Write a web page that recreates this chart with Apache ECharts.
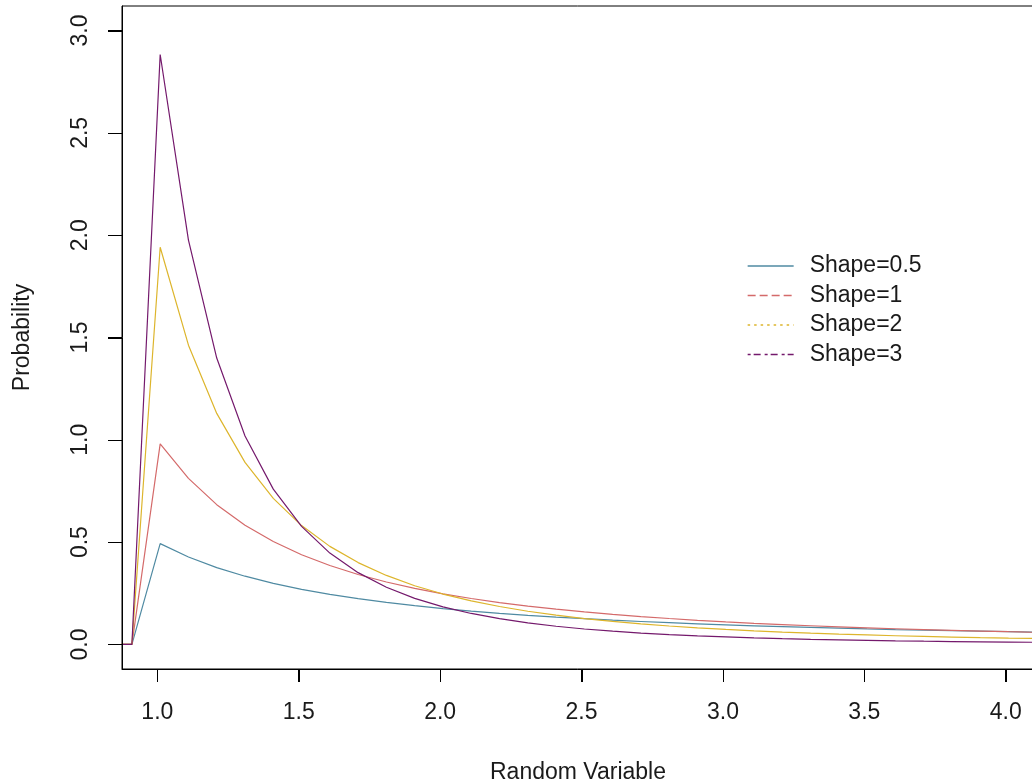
<!DOCTYPE html>
<html>
<head>
<meta charset="utf-8">
<title>Shape densities</title>
<script src="https://cdn.jsdelivr.net/npm/echarts@6/dist/echarts.min.js"></script>
<style>
  html, body { margin: 0; padding: 0; background: #ffffff; }
  #chart { width: 1032px; height: 784px; }
</style>
</head>
<body>
<div id="chart"></div>
<script>
// Sample points of the random variable
const xValues = [0.81, 0.91, 1.01, 1.11, 1.21, 1.31, 1.41, 1.51, 1.61, 1.71, 1.81, 1.91,
  2.01, 2.11, 2.21, 2.31, 2.41, 2.51, 2.61, 2.71, 2.81, 2.91, 3.01, 3.11, 3.21, 3.31,
  3.41, 3.51, 3.61, 3.71, 3.81, 3.91, 4.01, 4.11, 4.21];

// Probability for each shape value
const shape05 = [0, 0, 0.4926, 0.4276, 0.3757, 0.3335, 0.2986, 0.2695, 0.2448, 0.2236, 0.2053, 0.1894,
  0.1755, 0.1631, 0.1522, 0.1424, 0.1336, 0.1257, 0.1186, 0.1121, 0.1062, 0.1007, 0.0958, 0.0912, 0.0869, 0.0830,
  0.0794, 0.0760, 0.0729, 0.0700, 0.0672, 0.0647, 0.0623, 0.0600, 0.0579];
const shape1 = [0, 0, 0.9803, 0.8116, 0.6830, 0.5827, 0.5030, 0.4386, 0.3858, 0.3420, 0.3052, 0.2741,
  0.2475, 0.2246, 0.2048, 0.1874, 0.1722, 0.1587, 0.1468, 0.1362, 0.1267, 0.1181, 0.1104, 0.1034, 0.0971, 0.0913,
  0.0860, 0.0812, 0.0767, 0.0727, 0.0689, 0.0654, 0.0622, 0.0592, 0.0564];
const shape2 = [0, 0, 1.9412, 1.4624, 1.1290, 0.8896, 0.7135, 0.5809, 0.4792, 0.4000, 0.3373, 0.2870,
  0.2463, 0.2129, 0.1853, 0.1623, 0.1429, 0.1265, 0.1125, 0.1005, 0.0901, 0.0812, 0.0733, 0.0665, 0.0605, 0.0552,
  0.0504, 0.0463, 0.0425, 0.0392, 0.0362, 0.0335, 0.0310, 0.0288, 0.0268];
const shape3 = [0, 0, 2.8830, 1.9762, 1.3995, 1.0187, 0.7590, 0.5771, 0.4465, 0.3509, 0.2795, 0.2254,
  0.1838, 0.1514, 0.1258, 0.1054, 0.0889, 0.0756, 0.0647, 0.0556, 0.0481, 0.0418, 0.0366, 0.0321, 0.0283, 0.0250,
  0.0222, 0.0198, 0.0177, 0.0158, 0.0142, 0.0128, 0.0116, 0.0105, 0.0096];

// Axis tick positions
const xTicks = [1.0, 1.5, 2.0, 2.5, 3.0, 3.5, 4.0];
const yTicks = [0.0, 0.5, 1.0, 1.5, 2.0, 2.5, 3.0];

const seriesNames = ['Shape=0.5', 'Shape=1', 'Shape=2', 'Shape=3'];
const seriesValues = [shape05, shape1, shape2, shape3];
const seriesColors = ['#4f8aa2', '#d46a6a', '#ddb52c', '#74196c'];
const legendDash = ['solid', [8, 4], [2.5, 4], [3, 3, 7, 4]];

const FONT = '"Liberation Sans", Arial, Helvetica, sans-serif';
const X_MIN = 0.875, X_MAX = 4.1, Y_MIN = -0.12, Y_MAX = 3.12;

const chart = echarts.init(document.getElementById('chart'));

const series = seriesNames.map((name, i) => ({
  name: name,
  type: 'line',
  data: xValues.map((x, k) => [x, seriesValues[i][k]]),
  symbol: 'none',
  lineStyle: { color: seriesColors[i], width: 1.2, type: 'solid' },
  itemStyle: { color: seriesColors[i] }
}));

chart.setOption({
  animation: false,
  grid: {
    left: 122, top: 6, right: -2, bottom: 115,
    show: true, borderColor: '#000000',
    outerBoundsMode: 'none'
  },
  legend: {
    show: true,
    orient: 'vertical',
    left: 742,
    top: 249,
    itemWidth: 46,
    itemHeight: 12,
    itemGap: 5.5,
    textStyle: { fontFamily: FONT, fontSize: 23, color: '#1a1a1a', lineHeight: 24, padding: [0, 0, 0, 11] },
    data: seriesNames.map((name, i) => ({
      name: name,
      itemStyle: { opacity: 0 },
      lineStyle: { color: seriesColors[i], width: 1.3, type: legendDash[i] }
    }))
  },
  xAxis: {
    type: 'value',
    z: 10,
    min: X_MIN,
    max: X_MAX,
    name: 'Random Variable',
    nameLocation: 'middle',
    nameGap: 92,
    nameTextStyle: { fontFamily: FONT, fontSize: 23, color: '#1a1a1a' },
    axisLine: { show: true, onZero: false, lineStyle: { color: '#000000' } },
    splitLine: { show: false },
    axisTick: { show: true, length: 13, customValues: xTicks, lineStyle: { color: '#000000', width: 1 } },
    axisLabel: {
      customValues: xTicks,
      margin: 32,
      fontFamily: FONT, fontSize: 23, color: '#1a1a1a',
      formatter: v => v.toFixed(1)
    }
  },
  yAxis: {
    type: 'value',
    z: 10,
    min: Y_MIN,
    max: Y_MAX,
    name: 'Probability',
    nameLocation: 'middle',
    nameGap: 88,
    nameTextStyle: { fontFamily: FONT, fontSize: 23, color: '#1a1a1a' },
    axisLine: { show: true, onZero: false, lineStyle: { color: '#000000' } },
    splitLine: { show: false },
    axisTick: { show: true, length: 14, customValues: yTicks, lineStyle: { color: '#000000', width: 1 } },
    axisLabel: {
      customValues: yTicks,
      rotate: 90,
      margin: 30,
      fontFamily: FONT, fontSize: 23, color: '#1a1a1a',
      formatter: v => v.toFixed(1)
    }
  },
  series: series
});

// Outward tick marks on the frame, placed through the chart's own coordinate conversion
const tickMarks = [];
xTicks.forEach(v => {
  const p = chart.convertToPixel({ gridIndex: 0 }, [v, Y_MIN]);
  const x = Math.round(p[0]) + 0.5;
  tickMarks.push({ type: 'line', z: 20, silent: true,
    shape: { x1: x, y1: p[1], x2: x, y2: p[1] + 13 },
    style: { stroke: '#000000', lineWidth: 1 } });
});
yTicks.forEach(v => {
  const p = chart.convertToPixel({ gridIndex: 0 }, [X_MIN, v]);
  const y = Math.round(p[1]) + 0.5;
  tickMarks.push({ type: 'line', z: 20, silent: true,
    shape: { x1: p[0], y1: y, x2: p[0] - 14, y2: y },
    style: { stroke: '#000000', lineWidth: 1 } });
});
chart.setOption({ graphic: tickMarks });
</script>
</body>
</html>
